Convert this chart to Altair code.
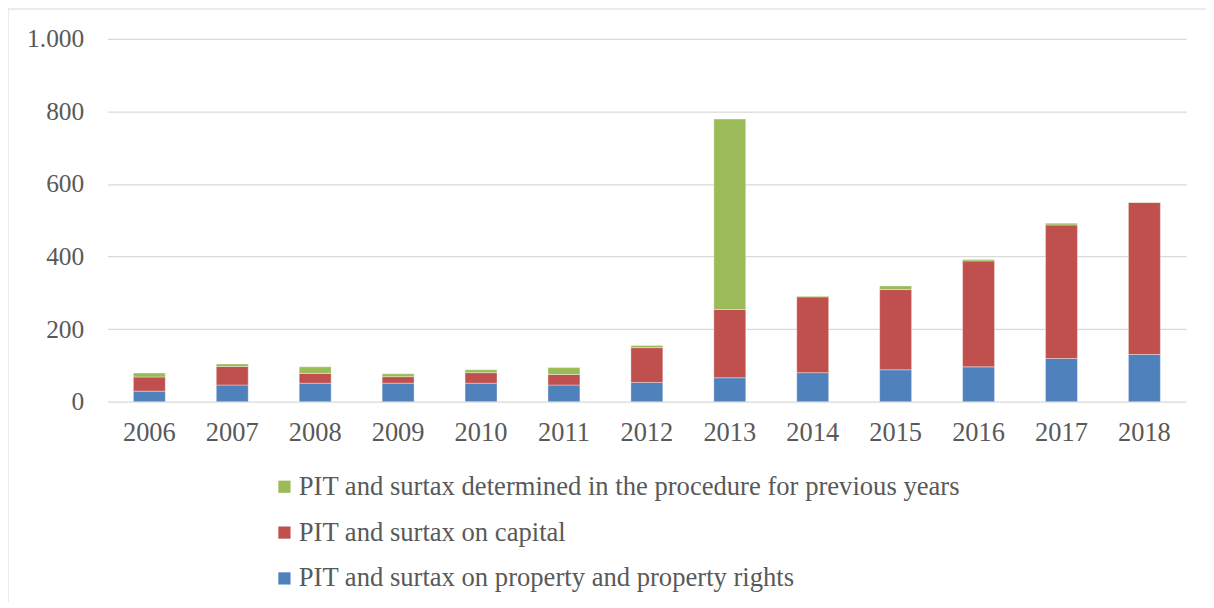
import altair as alt
import pandas as pd

years = ["2006", "2007", "2008", "2009", "2010", "2011", "2012",
         "2013", "2014", "2015", "2016", "2017", "2018"]
property_rights = [29, 46, 51, 51, 51, 46, 53, 66, 80, 88, 96, 119, 130]
capital = [39, 51, 27, 18, 29, 29, 96, 188, 209, 221, 292, 368, 419]
previous_years = [11, 7, 18, 8, 8, 19, 6, 525, 2, 10, 4, 5, 1]

series_names = [
    "PIT and surtax determined in the procedure for previous years",
    "PIT and surtax on capital",
    "PIT and surtax on property and property rights",
]
series_colors = ["#9BBB59", "#C0504D", "#4F81BD"]
y_ticks = [0, 200, 400, 600, 800, 1000]

rows = []
for i, y in enumerate(years):
    rows.append({"year": y, "series": series_names[2], "value": property_rights[i], "ord": 0})
    rows.append({"year": y, "series": series_names[1], "value": capital[i], "ord": 1})
    rows.append({"year": y, "series": series_names[0], "value": previous_years[i], "ord": 2})
df = pd.DataFrame(rows)

font = "Liberation Serif"
grey = "#595959"

bars = alt.Chart(df).mark_bar(stroke="white", strokeWidth=0.6, strokeOpacity=0.6).encode(
    x=alt.X("year:N", sort=years, title=None,
            scale=alt.Scale(paddingInner=0.615, paddingOuter=0.31),
            axis=alt.Axis(labelAngle=0, domain=False, ticks=False, labelPadding=18,
                          labelFontSize=26.5, labelFont=font, labelColor=grey)),
    y=alt.Y("value:Q", stack="zero", title=None,
            scale=alt.Scale(domain=[0, 1000], nice=False),
            axis=alt.Axis(values=y_ticks, domain=False, ticks=False, labelPadding=24,
                          labelFontSize=25.5, labelFont=font, labelColor=grey,
                          gridColor="#d9d9d9", gridWidth=1.3,
                          labelExpr="replace(format(datum.value, ','), ',', '.')")),
    color=alt.Color("series:N", title=None,
                    scale=alt.Scale(domain=series_names, range=series_colors),
                    legend=alt.Legend(orient="none", legendX=164, legendY=436,
                                      direction="vertical", symbolType="square",
                                      symbolSize=150, symbolStrokeWidth=0,
                                      labelFontSize=26.7, labelFont=font, labelColor=grey,
                                      labelLimit=1000, rowPadding=18, labelOffset=1)),
    order=alt.Order("ord:Q"),
)

border = alt.Chart(pd.DataFrame({"a": [0]})).mark_rect(
    fill=None, stroke="#d9d9d9", strokeWidth=1).encode(
    x=alt.value(-100), x2=alt.value(1300), y=alt.value(-30), y2=alt.value(700))

chart = alt.layer(bars, border).properties(
    width=1082, height=364,
    autosize=alt.AutoSizeParams(type="none"),
    padding={"left": 100, "top": 30, "right": 20, "bottom": 200},
    background="white",
).configure_view(stroke=None)

chart.save("out.html", embed_options={"renderer": "svg", "actions": False})
